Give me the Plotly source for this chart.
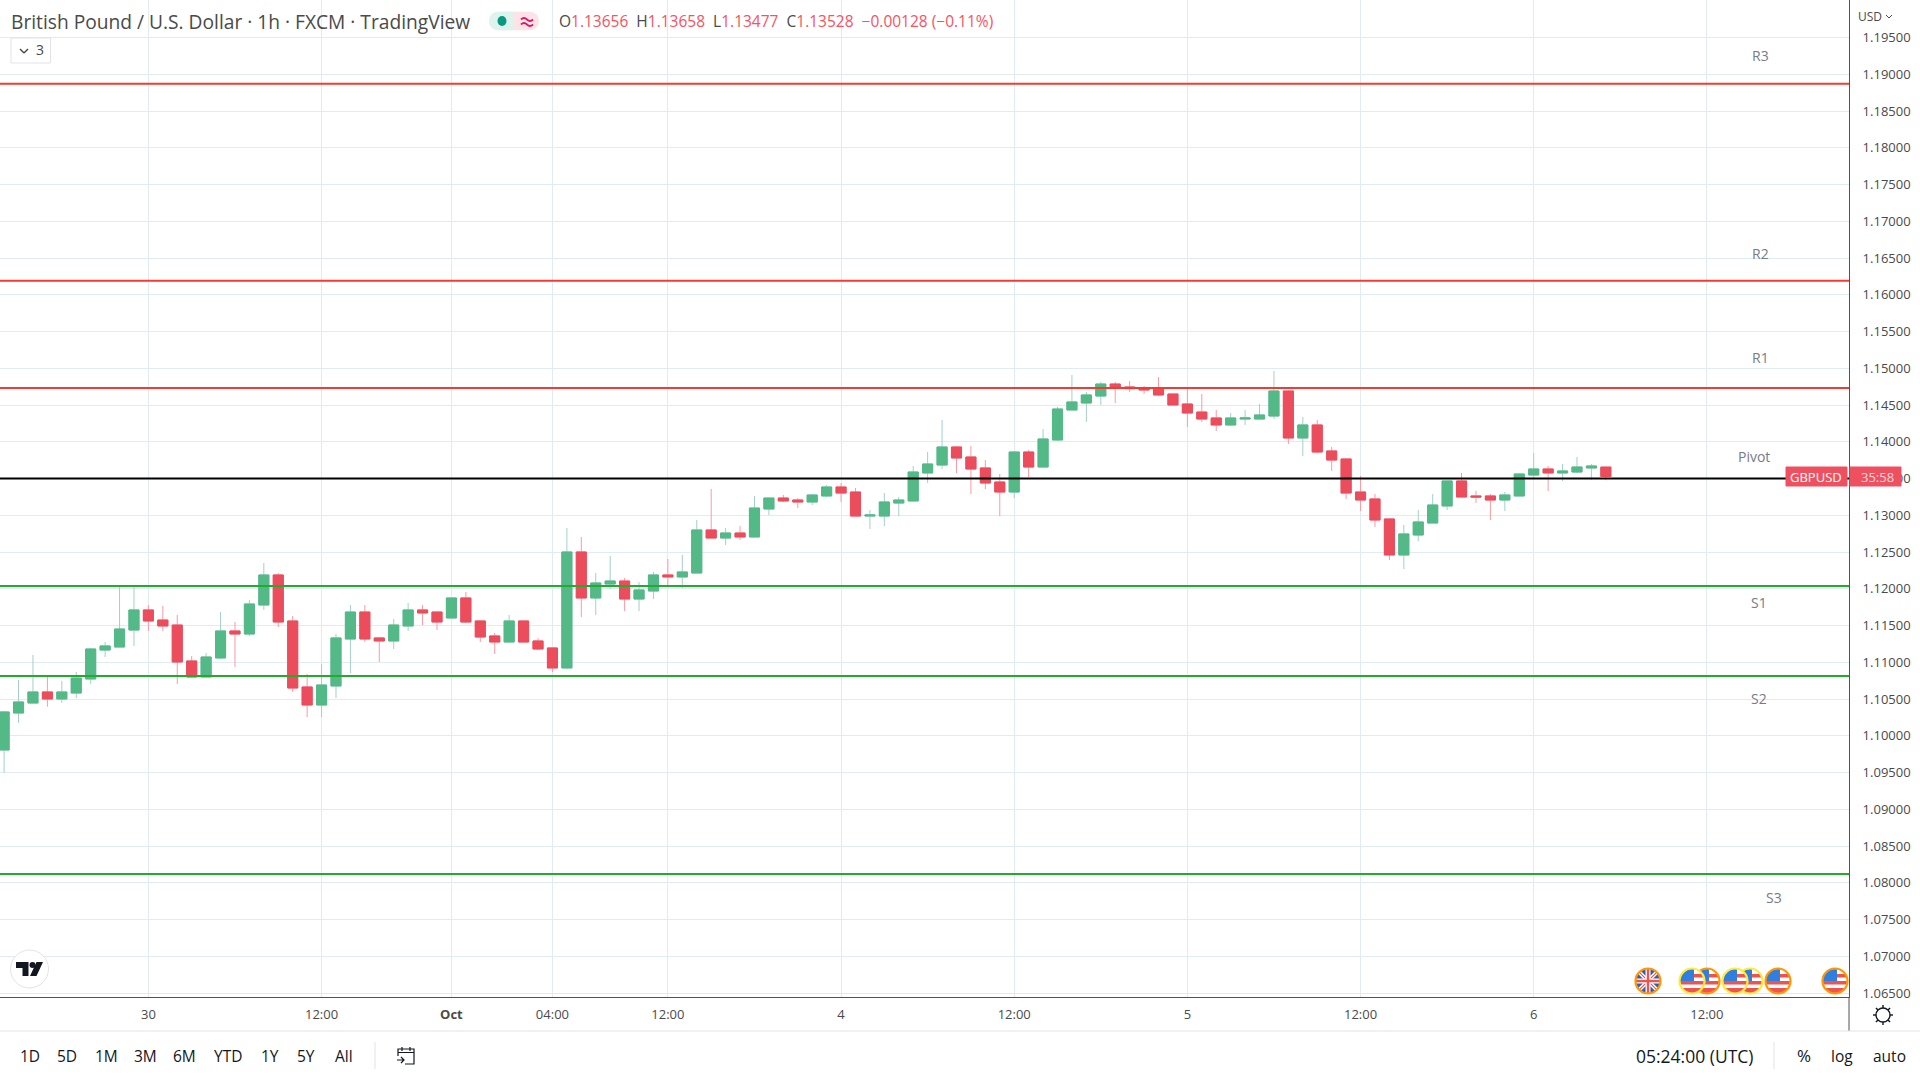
import base64
import plotly.graph_objects as go

# hourly bars, oldest first
open_ = [1.09807,1.10310,1.10446,1.10596,1.10501,1.10582,1.10773,1.11167,1.11208,1.11439,
         1.11712,1.11575,1.11507,1.11018,1.10800,1.11059,1.11426,1.11385,1.11780,1.12188,
         1.11562,1.10664,1.10419,1.10678,1.11317,1.11684,1.11331,1.11290,1.11494,1.11712,
         1.11684,1.11603,1.11875,1.11562,1.11358,1.11276,1.11562,1.11290,1.11195,1.10923,
         1.12501,1.11875,1.12065,1.12106,1.11861,1.11970,1.12188,1.12161,1.12215,1.12800,
         1.12691,1.12759,1.12705,1.13086,1.13235,1.13208,1.13181,1.13263,1.13385,1.13317,
         1.12990,1.12990,1.13167,1.13195,1.13576,1.13684,1.13929,1.13793,1.13644,1.13453,
         1.13317,1.13861,1.13657,1.14025,1.14433,1.14528,1.14623,1.14786,1.14746,1.14732,
         1.14732,1.14650,1.14514,1.14405,1.14324,1.14229,1.14310,1.14310,1.14351,1.14691,
         1.14052,1.14229,1.13875,1.13766,1.13317,1.13222,1.12950,1.12460,1.12732,1.12895,
         1.13127,1.13467,1.13263,1.13263,1.13208,1.13263,1.13548,1.13630,1.13576,1.13589,
         1.13644,1.13656]
high = [1.10338,1.10759,1.11099,1.10805,1.10746,1.10868,1.11195,1.11276,1.12052,1.12029,
        1.11780,1.11766,1.11644,1.11086,1.11127,1.11684,1.11548,1.11848,1.12351,1.12215,
        1.11630,1.10841,1.10977,1.11385,1.11780,1.11780,1.11344,1.11589,1.11807,1.11780,
        1.11684,1.11875,1.11957,1.11562,1.11399,1.11644,1.11562,1.11331,1.11195,1.12827,
        1.12705,1.12215,1.12446,1.12147,1.12092,1.12229,1.12405,1.12460,1.12936,1.13358,
        1.12827,1.12854,1.13263,1.13235,1.13276,1.13235,1.13290,1.13412,1.13439,1.13371,
        1.13072,1.13303,1.13249,1.13671,1.13861,1.14297,1.13943,1.13943,1.13752,1.13562,
        1.13875,1.13888,1.14174,1.14474,1.14909,1.14678,1.14814,1.14814,1.14827,1.14759,
        1.14882,1.14650,1.14732,1.14650,1.14433,1.14392,1.14433,1.14514,1.14963,1.14697,
        1.14337,1.14297,1.13929,1.13766,1.13535,1.13290,1.12950,1.12868,1.13072,1.13290,
        1.13467,1.13576,1.13331,1.13290,1.13317,1.13562,1.13848,1.13671,1.13698,1.13793,
        1.13698,1.13658]
low = [1.09498,1.10179,1.10446,1.10396,1.10446,1.10514,1.10705,1.11072,1.11208,1.11222,
       1.11426,1.11426,1.10705,1.10800,1.10800,1.11045,1.10936,1.11358,1.11712,1.11480,
       1.10596,1.10256,1.10256,1.10514,1.10854,1.11276,1.11004,1.11181,1.11426,1.11507,
       1.11439,1.11603,1.11535,1.11276,1.11113,1.11276,1.11276,1.11167,1.10868,1.10909,
       1.11616,1.11644,1.11997,1.11698,1.11698,1.11861,1.12038,1.12011,1.12215,1.12691,
       1.12596,1.12664,1.12705,1.13004,1.13181,1.13099,1.13140,1.13249,1.13181,1.12990,
       1.12814,1.12854,1.12990,1.13195,1.13439,1.13630,1.13576,1.13290,1.13357,1.12990,
       1.13235,1.13521,1.13657,1.14011,1.14433,1.14269,1.14501,1.14528,1.14678,1.14650,
       1.14623,1.14501,1.14201,1.14269,1.14147,1.14215,1.14229,1.14310,1.14310,1.13970,
       1.13807,1.13848,1.13603,1.13222,1.13058,1.12841,1.12392,1.12269,1.12650,1.12895,
       1.13072,1.13249,1.13167,1.12936,1.13058,1.13263,1.13494,1.13331,1.13467,1.13576,
       1.13480,1.13477]
close = [1.10324,1.10460,1.10596,1.10501,1.10596,1.10786,1.11181,1.11222,1.11453,1.11712,
         1.11562,1.11494,1.11004,1.10800,1.11072,1.11426,1.11385,1.11793,1.12188,1.11548,
         1.10650,1.10419,1.10691,1.11331,1.11684,1.11317,1.11290,1.11507,1.11712,1.11671,
         1.11548,1.11875,1.11548,1.11344,1.11276,1.11562,1.11276,1.11181,1.10923,1.12501,
         1.11875,1.12079,1.12106,1.11861,1.11984,1.12188,1.12161,1.12229,1.12800,1.12691,
         1.12759,1.12705,1.13099,1.13235,1.13195,1.13181,1.13276,1.13385,1.13303,1.12990,
         1.13004,1.13181,1.13208,1.13589,1.13698,1.13929,1.13780,1.13630,1.13439,1.13317,
         1.13861,1.13657,1.14038,1.14446,1.14542,1.14637,1.14786,1.14732,1.14723,1.14705,
         1.14637,1.14501,1.14392,1.14310,1.14229,1.14324,1.14324,1.14365,1.14691,1.14052,
         1.14229,1.13861,1.13752,1.13303,1.13208,1.12936,1.12460,1.12746,1.12909,1.13140,
         1.13467,1.13249,1.13249,1.13208,1.13276,1.13562,1.13630,1.13576,1.13603,1.13657,
         1.13671,1.13528]

tick_idx = [10, 22, 31, 38, 46, 58, 70, 82, 94, 106, 118]
tick_text = ["30", "12:00", "<b>Oct</b>", "04:00", "12:00", "4", "12:00", "5", "12:00", "6", "12:00"]
price_ticks = [1.065 + 0.005 * n for n in range(27)]

level_names = ["R3", "R2", "R1", "Pivot", "S1", "S2", "S3"]
level_vals = [1.1887, 1.1619, 1.14732, 1.1350, 1.12038, 1.10814, 1.0812]
level_cols = ["#f23b32", "#f23b32", "#f23b32", "#000000", "#22ab2d", "#22ab2d", "#22ab2d"]
level_label_px = [(1760, 55), (1760, 254), (1760, 358), (1754, 457), (1759, 602), (1759, 698), (1774, 897)]

range_btns = ["1D", "5D", "1M", "3M", "6M", "YTD", "1Y", "5Y", "All"]
range_btn_px = [30, 67, 106, 145, 184, 228, 270, 306, 344]

x_range = [-0.284, 127.85]
y_range = [1.06446, 1.20011]

UP, DOWN = "#53b987", "#eb4d5c"
UP_WICK, DOWN_WICK = "#a5cfca", "#f79ba5"
GRID = "#e1ecf2"
AXIS = "#50535e"
TEXT = "#4a4a4a"
FONT = "Open Sans"

PW, PH = 1849.0, 997.0


def X(px):
    return px / PW


def Y(py):
    return 1 - py / PH


def svg_uri(body, w, h):
    svg = f'<svg xmlns="http://www.w3.org/2000/svg" width="{w}" height="{h}" viewBox="0 0 {w} {h}">{body}</svg>'
    return "data:image/svg+xml;base64," + base64.b64encode(svg.encode()).decode()


fig = go.Figure()
idx = list(range(len(open_)))

# pivot levels as traces so they sit over the gridlines but under the candles
for val, col in zip(level_vals, level_cols):
    fig.add_trace(go.Scatter(x=x_range, y=[val, val], mode="lines", line=dict(color=col, width=2), hoverinfo="skip"))

# wicks first, they are paler than the bodies
fig.add_trace(go.Candlestick(
    x=idx, open=open_, high=high, low=low, close=close, whiskerwidth=0,
    increasing=dict(line=dict(color=UP_WICK, width=1), fillcolor=UP),
    decreasing=dict(line=dict(color=DOWN_WICK, width=1), fillcolor=DOWN),
    hoverinfo="skip",
))
fig.add_trace(go.Candlestick(
    x=idx, open=open_, close=close, whiskerwidth=0,
    high=[max(o, c) for o, c in zip(open_, close)],
    low=[min(o, c) for o, c in zip(open_, close)],
    increasing=dict(line=dict(color=UP, width=1), fillcolor=UP),
    decreasing=dict(line=dict(color=DOWN, width=1), fillcolor=DOWN),
    hoverinfo="skip",
))


def note(text, px, py, size=14, color=TEXT, anchor="center"):
    fig.add_annotation(text=text, x=X(px), y=Y(py), xref="paper", yref="paper", showarrow=False,
                       xanchor=anchor, yanchor="middle", font=dict(family=FONT, size=size, color=color))


def rect(x0, y0, x1, y1, fill, line=None):
    fig.add_shape(type="rect", xref="paper", yref="paper", x0=X(x0), x1=X(x1), y0=Y(y0), y1=Y(y1),
                  fillcolor=fill, line=dict(color=line or fill, width=1))


def seg(x0, y0, x1, y1, color, width=1):
    fig.add_shape(type="line", xref="paper", yref="paper", x0=X(x0), x1=X(x1), y0=Y(y0), y1=Y(y1),
                  line=dict(color=color, width=width))


def icon(uri, cx, cy, w, h):
    fig.add_layout_image(source=uri, xref="paper", yref="paper", x=X(cx), y=Y(cy), sizex=w / PW, sizey=h / PH,
                         xanchor="center", yanchor="middle", layer="above")


for name, (px, py) in zip(level_names, level_label_px):
    note(name, px, py, size=14, color="#787b86")

# header
note("British Pound / U.S. Dollar · 1h · FXCM · TradingView", 9, 21, size=19.2, anchor="left")
red = "#f7525f"
ohlc = (f"O<span style='color:{red}'>1.13656</span>  H<span style='color:{red}'>1.13658</span>  "
        f"L<span style='color:{red}'>1.13477</span>  C<span style='color:{red}'>1.13528</span>  "
        f"<span style='color:{red}'>−0.00128 (−0.11%)</span>")
note(ohlc, 557, 21, size=15.5, anchor="left")
pill = ('<rect x="0" y="0" width="50" height="19" rx="9.5" fill="#fde3e8"/>'
        '<path d="M9.5 0H25V19H9.5A9.5 9.5 0 0 1 9.5 0Z" fill="#dff3ee"/>'
        '<ellipse cx="13" cy="9.5" rx="4.5" ry="5" fill="#089981"/>'
        '<path d="M32 8q3-3 6 0t6 0M32 13q3-3 6 0t6 0" fill="none" stroke="#d81b60" stroke-width="1.8"/>')
icon(svg_uri(pill, 50, 19), 514, 21, 50, 19)
rect(11, 38, 50.5, 63, "#ffffff", "#e0e3eb")
seg(20, 49, 24, 53, TEXT, 1.5)
seg(24, 53, 28, 49, TEXT, 1.5)
note("3", 40, 50, size=14)

# price tag on the axis
rect(1786, 467, 1847, 486, "#ef5060")
rect(1850, 467, 1901, 486, "#ef5060")
note("GBPUSD", 1816, 476.5, size=13, color="#ffffff")
note("35:58", 1877, 476.5, size=13, color="#fbd9dc")

# USD selector
rect(1851, 0, 1920, 29, "#ffffff")
note("USD", 1870, 16, size=12)
seg(1886, 15, 1889, 18, TEXT, 1)
seg(1889, 18, 1892, 15, TEXT, 1)

# axis frame and bottom bar
seg(1849, 997, 1849, 1031, AXIS)
seg(0, 1031, 1920, 1031, "#e0e3eb")
seg(375, 1042, 375, 1069, "#e0e3eb")
seg(1774, 1042, 1774, 1069, "#e0e3eb")
for txt, px in zip(range_btns, range_btn_px):
    note(txt, px, 1055.5, size=15.5, color="#131722")
note("05:24:00 (UTC)", 1695, 1055.5, size=17.5, color="#131722")
note("%", 1804, 1055.5, size=17, color="#131722")
note("log", 1842, 1055.5, size=15.5, color="#131722")
note("auto", 1889, 1055.5, size=15.5, color="#131722")

calendar = ('<path d="M2 10V3H18V18H9M2 6.5H18M6 1V5M14 1V5M1 14H8M5 11L8 14L5 17" fill="none" '
            'stroke="#131722" stroke-width="1.2"/>')
icon(svg_uri(calendar, 20, 20), 406, 1056, 20, 20)

spokes = "".join(f'<path d="M12 2V5" transform="rotate({a} 12 12)" stroke="#131722" stroke-width="1.4"/>'
                 for a in range(0, 360, 45))
gear = f'<circle cx="12" cy="12" r="7" fill="none" stroke="#131722" stroke-width="1.4"/>{spokes}'
icon(svg_uri(gear, 24, 24), 1883, 1015, 24, 24)

logo = ('<circle cx="20" cy="20" r="19" fill="#ffffff" stroke="#e0e3eb" stroke-width="1"/>'
        '<path d="M6.5 13H19V27H13V19H6.5ZM27 13H33.5L27 27H20.5Z" fill="#131722"/>'
        '<circle cx="23" cy="16" r="3" fill="#131722"/>')
icon(svg_uri(logo, 40, 40), 29.5, 969, 40, 40)

# event flags along the time axis
def flag(kind, ring):
    if kind == "uk":
        art = ('<rect x="3" y="3" width="24" height="24" fill="#2d5fb5"/>'
               '<path d="M3 3L27 27M27 3L3 27" stroke="#ffffff" stroke-width="4"/>'
               '<path d="M3 3L27 27M27 3L3 27" stroke="#ef5350" stroke-width="1.2"/>'
               '<path d="M15 3V27M3 15H27" stroke="#ffffff" stroke-width="5"/>'
               '<path d="M15 3V27M3 15H27" stroke="#ef5350" stroke-width="2.4"/>')
    else:
        art = ('<rect x="3" y="3" width="24" height="24" fill="#ffffff"/>'
               '<rect x="3" y="15" width="24" height="3.5" fill="#ef5350"/>'
               '<rect x="3" y="22" width="24" height="5" fill="#ef5350"/>'
               '<rect x="3" y="8" width="24" height="3.5" fill="#ef5350"/>'
               '<rect x="3" y="3" width="14" height="12" fill="#2f7fe0"/>')
    body = (f'<clipPath id="c"><circle cx="15" cy="15" r="12"/></clipPath>'
            f'<g clip-path="url(#c)">{art}</g>'
            f'<circle cx="15" cy="15" r="12.5" fill="none" stroke="{ring}" stroke-width="2.2"/>')
    return svg_uri(body, 30, 30)


flag_rows = [("uk", "#ff9800", 1648), ("us", "#ff9800", 1707), ("us", "#ffeb3b", 1692),
             ("us", "#ffeb3b", 1750), ("us", "#ffeb3b", 1735), ("us", "#ff9800", 1778), ("us", "#ff9800", 1835)]
for kind, ring, px in flag_rows:
    icon(flag(kind, ring), px, 981, 30, 30)

fig.update_layout(
    width=1920, height=1080,
    margin=dict(l=0, r=71, t=0, b=83, pad=0),
    paper_bgcolor="#ffffff", plot_bgcolor="#ffffff",
    showlegend=False, boxmode="overlay", boxgap=0.3, boxgroupgap=0,
    font=dict(family=FONT, color=TEXT),
)
fig.update_xaxes(
    range=x_range, tickmode="array", tickvals=tick_idx, ticktext=tick_text,
    rangeslider=dict(visible=False), showgrid=True, gridcolor=GRID, gridwidth=1, zeroline=False,
    showline=True, linecolor=AXIS, linewidth=1, ticks="", ticklabelstandoff=5, tickfont=dict(size=13, color=TEXT),
)
fig.update_yaxes(
    range=y_range, side="right", tickmode="array", tickvals=price_ticks,
    ticktext=[f"{v:.5f}" for v in price_ticks], showgrid=True, gridcolor=GRID, gridwidth=1, zeroline=False,
    showline=True, linecolor=AXIS, linewidth=1, ticks="", ticklabelstandoff=10, tickfont=dict(size=13, color=TEXT),
)

# the page's default body margin would push the 1920x1080 figure off the window
fig.write_html("out.html", config={"displayModeBar": False},
               post_script="document.body.style.margin='0';document.body.style.overflow='hidden';")
